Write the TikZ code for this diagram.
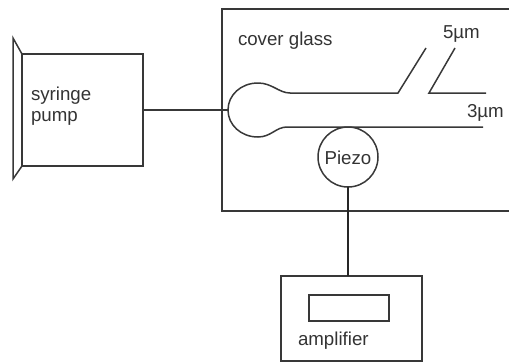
\documentclass[tikz,border=0pt]{standalone}
\usepackage{fontspec}
\setmainfont{Liberation Sans}
\tikzset{
  ln/.style={draw=black!78,line width=1.5pt},
  heavy/.style={draw=black!85,line width=2.2pt},
  boxn/.style={ln,rectangle,inner sep=0pt,outer sep=0pt,fill=none},
  lbl/.style={text=black!80,inner sep=0pt,outer sep=0pt,font=\fontsize{18.7}{21}\selectfont},
}
\begin{document}
\begin{tikzpicture}[x=1pt,y=-1pt]
\useasboundingbox (0,0) rectangle (509,362);
\clip (0,0) rectangle (509,362);
\node[boxn,minimum width=121pt,minimum height=112pt] (pump) at (82.5,110) {};
\node[boxn,minimum width=300pt,minimum height=202pt] (glass) at (372,110) {};
\node[boxn,circle,minimum size=60pt] (piezo) at (348,157) {};
\node[boxn,minimum width=141pt,minimum height=85pt] (amp) at (351.5,318.5) {};
\node[boxn,minimum width=80pt,minimum height=26pt] (display) at (349,308) {};
% syringe flange
\coordinate (fa) at (13,38);
\coordinate (fb) at (13,179);
\draw[ln,line join=miter] (pump.north west) -- (fa) -- (fb) -- (pump.south west);
% tubing
\coordinate (bulb) at (228,110);
\draw[ln] (pump.east) -- (bulb);
\coordinate (u1) at (398,93);
\coordinate (u2) at (426,48);
\coordinate (v1) at (455,48);
\coordinate (v2) at (429,93);
\coordinate (v3) at (486,93);
\coordinate (w1) at (483,127);
\coordinate (w2) at (287,127);
\draw[ln] (u2) -- (u1) -- (290,93)
  .. controls (279,93) and (272,83) .. (258,83)
  .. controls (241,83) and (228,95) .. (bulb)
  .. controls (228,125) and (241,137) .. (258,137)
  .. controls (271,137) and (276,127) .. (w2) -- (w1);
\draw[ln] (v1) -- (v2) -- (v3);
\draw[heavy] (piezo.south) -- (piezo.south |- amp.north);
% labels
\node[lbl,anchor=base west] (t1) at (31,100) {syringe};
\node[lbl,anchor=base west] (t2) at (31,121) {pump};
\node[lbl,anchor=base west] (t3) at (238,45) {cover glass};
\node[lbl,anchor=base west] (t4) at (443,38) {5µm};
\node[lbl,anchor=base west] (t5) at (467,117) {3µm};
\node[lbl,anchor=center] (t6) at (348,158) {Piezo};
\node[lbl,anchor=base west] (t7) at (298,345) {amplifier};
\end{tikzpicture}
\end{document}
